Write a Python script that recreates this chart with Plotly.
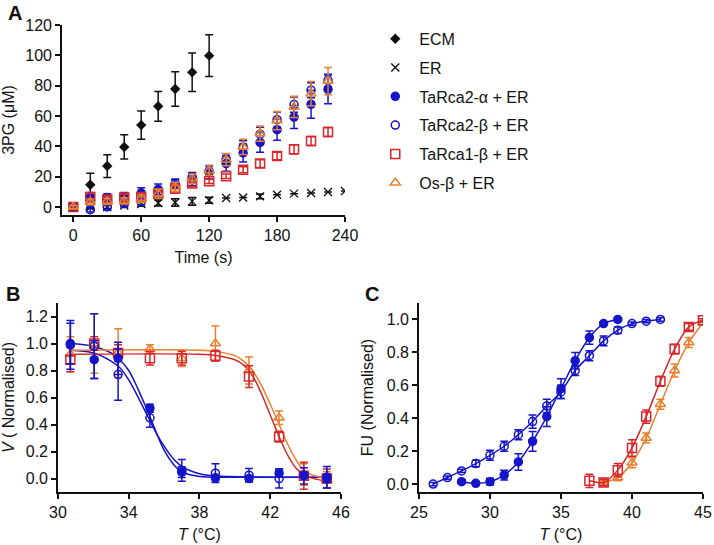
import plotly.graph_objects as go

# ---- panel A: 3PG production over time
time_s = [0, 15, 30, 45, 60, 75, 90, 105, 120, 135, 150, 165, 180, 195, 210, 225, 240]

ecm_t = [0, 15, 30, 45, 60, 75, 90, 105, 120]
ecm = [0, 14.7, 27, 39.6, 54, 66.4, 77.8, 88.8, 99.8]
ecm_err = [0.5, 7.5, 7.5, 8, 9.3, 9.8, 11.4, 12.7, 13.8]

er = [0, 0, 0, 1, 2, 2.6, 2.9, 3.7, 4.4, 5.9, 6.2, 7, 8.1, 8.8, 9.2, 9.9, 10.5]
er_err = [None, 1, 1, 1, 1.5, 2, 2.5, 2.5, 2, None, None, 1.5, None, None, None, None, None]

ta2a = [0, 5.9, 6.2, 6.6, 9.2, 11.6, 14, 18.2, 22.9, 28.6, 35.6, 42.6, 51, 59.3, 67.7, 77.6]
ta2a_err = [1, 2.5, 2.5, 3, 3.5, 3.5, 4, 4, 4.5, 5, 6, 6.5, 7, 7.5, 9.2, 9.5]
ta2b = [0, -1.8, 0, 2.2, 3.5, 8.8, 15.4, 19.8, 23.7, 31.6, 39.6, 48, 57.6, 67.5, 77, 83.5]
ta2b_err = [1, 1.5, 1.5, 1.5, 2, 3, 3, 3, 3, 3.5, 4, 4.5, 5, 5, 5, 4]
ta1b = [0, 6.6, 5, 6.2, 6.6, 8.8, 12, 15.4, 16.9, 20.2, 24.6, 28.6, 33.6, 38, 43.5, 49.4]
ta1b_err = [1, 3, 2, 2, 2, 2, 2, 2, 1.5, 1.5, 2, 2.5, 2.5, 3, 3, 3]
osb = [0, 3.3, 3.7, 4, 5.5, 8.8, 13.2, 18.7, 24, 31.2, 39.6, 48.4, 57, 66, 74.7, 83]
osb_err = [1, 2, 2, 2, 2.5, 3, 3, 3, 3, 4, 5, 5, 6, 7, 8, 9]

# ---- panel B: activity vs temperature
b_t = [30.7, 32.05, 33.4, 35.2, 37.0, 38.9, 40.8, 42.5, 43.9, 45.2]
b_2a = [1.0, 0.88, 0.89, 0.52, 0.047, 0.005, 0.0, 0.04, 0.025, 0.0]
b_2a_err = [0.15, 0.14, 0.12, 0.03, 0.04, 0.02, 0.02, 0.03, 0.02, 0.03]
b_2b = [0.99, 0.98, 0.77, 0.45, 0.06, 0.04, 0.025, 0.0, 0.02, 0.01]
b_2b_err = [0.18, 0.24, 0.19, 0.07, 0.08, 0.07, 0.05, 0.07, 0.06, 0.08]
b_1b = [0.88, 1.0, 0.93, 0.89, 0.89, 0.91, 0.755, 0.31, 0.02, 0.0]
b_1b_err = [0.09, 0.05, 0.06, 0.05, 0.05, 0.04, 0.08, 0.04, 0.1, 0.07]
b_os = [0.92, 1.0, 0.93, 0.96, 0.89, 1.0, 0.8, 0.45, 0.03, -0.01]
b_os_err = [0.13, 0.22, 0.18, 0.03, 0.06, 0.13, 0.1, 0.05, 0.08, 0.06]

# fitted curves
fit_2a_t = [30.7, 32, 33, 33.5, 34, 34.5, 35, 35.5, 36, 36.5, 37, 38, 40, 45.2]
fit_2a = [1.0, 0.98, 0.93, 0.88, 0.80, 0.67, 0.52, 0.36, 0.21, 0.11, 0.05, 0.015, 0.01, 0.01]
fit_2b_t = [30.7, 32, 33, 33.5, 34, 34.5, 35, 35.5, 36, 36.5, 37, 38, 39, 41, 45.2]
fit_2b = [0.95, 0.93, 0.87, 0.82, 0.73, 0.61, 0.48, 0.35, 0.24, 0.15, 0.09, 0.035, 0.018, 0.012, 0.01]
fit_1b_t = [30.7, 38, 39, 40, 40.5, 41, 41.5, 42, 42.5, 43, 43.5, 44, 45.2]
fit_1b = [0.92, 0.92, 0.91, 0.88, 0.84, 0.76, 0.63, 0.47, 0.31, 0.17, 0.07, 0.02, -0.02]
fit_os_t = [30.7, 38, 39, 40, 40.5, 41, 41.5, 42, 42.5, 43, 43.5, 44, 45.2]
fit_os = [0.95, 0.95, 0.94, 0.91, 0.87, 0.80, 0.69, 0.55, 0.40, 0.25, 0.13, 0.05, 0.0]

# ---- panel C: fluorescence unfolding
c_2b_t = [26, 27, 28, 29, 30, 31, 32, 33, 34, 35, 36, 37, 38, 39, 40, 41, 42]
c_2b = [0.0, 0.04, 0.08, 0.125, 0.175, 0.23, 0.30, 0.38, 0.475, 0.56, 0.69, 0.78, 0.87, 0.935, 0.975, 0.99, 1.0]
c_2b_err = [0.01, 0.01, 0.01, 0.02, 0.03, 0.03, 0.03, 0.04, 0.04, 0.04, 0.03, 0.03, 0.03, 0.02, 0.01, 0.01, 0.01]
c_2a_t = [28, 29, 30, 31, 32, 33, 34, 35, 36, 37, 38, 39]
c_2a = [0.015, 0.005, 0.015, 0.055, 0.135, 0.26, 0.41, 0.58, 0.75, 0.89, 0.975, 1.0]
c_2a_err = [0.01, 0.01, 0.02, 0.03, 0.05, 0.06, 0.06, 0.06, 0.05, 0.04, 0.01, 0.01]
c_1b_t = [37, 38, 39, 40, 41, 42, 43, 44, 45]
c_1b = [0.02, 0.01, 0.085, 0.22, 0.41, 0.625, 0.82, 0.955, 0.995]
c_1b_err = [0.04, 0.02, 0.04, 0.05, 0.04, 0.03, 0.03, 0.02, 0.01]
c_os_t = [38, 39, 40, 41, 42, 43, 44, 45]
c_os = [0.01, 0.04, 0.13, 0.28, 0.485, 0.69, 0.86, 0.98]
c_os_err = [0.01, 0.02, 0.03, 0.03, 0.03, 0.04, 0.03, 0.01]

BLACK = "#111111"
BLUE = "#1414c8"
RED = "#d8262a"
ORANGE = "#e8802e"
FONT = "Arial, Liberation Sans, sans-serif"


def err(arr, color):
    return dict(type="data", array=arr, color=color, thickness=1.5, width=4, visible=True)


def msize(sym):
    return 8 if "circle" in sym else 9


fig = go.Figure()

# panel A
fig.add_trace(go.Scatter(x=ecm_t, y=ecm, name="ECM", mode="markers", legendgroup="1",
                         marker=dict(symbol="diamond", size=8, color=BLACK),
                         error_y=err(ecm_err, BLACK), xaxis="x", yaxis="y"))
fig.add_trace(go.Scatter(x=time_s, y=er, name="ER", mode="markers", legendgroup="2",
                         marker=dict(symbol="x-thin", size=8, line=dict(color=BLACK, width=1.3)),
                         error_y=err(er_err, BLACK), xaxis="x", yaxis="y"))
series_a = [
    ("TaRca2-α + ER", ta2a, ta2a_err, BLUE, "circle"),
    ("TaRca2-β + ER", ta2b, ta2b_err, BLUE, "circle-open"),
    ("TaRca1-β + ER", ta1b, ta1b_err, RED, "square-open"),
    ("Os-β + ER", osb, osb_err, ORANGE, "triangle-up-open"),
]
for i, (name, ys, es, col, sym) in enumerate(series_a):
    fig.add_trace(go.Scatter(x=time_s[:len(ys)], y=ys, name=name, mode="markers", legendgroup=str(i + 3),
                             marker=dict(symbol=sym, size=msize(sym), color=col,
                                         line=dict(color=col, width=1.5)),
                             error_y=err(es, col), xaxis="x", yaxis="y"))

# panel B
fits_b = [(fit_2a_t, fit_2a, BLUE), (fit_2b_t, fit_2b, BLUE), (fit_1b_t, fit_1b, RED), (fit_os_t, fit_os, ORANGE)]
for xs, ys, col in fits_b:
    fig.add_trace(go.Scatter(x=xs, y=ys, mode="lines", line=dict(color=col, width=1.5, shape="spline"),
                             showlegend=False, hoverinfo="skip", xaxis="x2", yaxis="y2"))
pts_b = [(b_os, b_os_err, ORANGE, "triangle-up-open"), (b_1b, b_1b_err, RED, "square-open"),
         (b_2b, b_2b_err, BLUE, "circle-open"), (b_2a, b_2a_err, BLUE, "circle")]
for ys, es, col, sym in pts_b:
    fig.add_trace(go.Scatter(x=b_t, y=ys, mode="markers", showlegend=False,
                             marker=dict(symbol=sym, size=msize(sym), color=col,
                                         line=dict(color=col, width=1.5)),
                             error_y=err(es, col), xaxis="x2", yaxis="y2"))

# panel C
pts_c = [(c_os_t, c_os, c_os_err, ORANGE, "triangle-up-open"), (c_1b_t, c_1b, c_1b_err, RED, "square-open"),
         (c_2b_t, c_2b, c_2b_err, BLUE, "circle-open"), (c_2a_t, c_2a, c_2a_err, BLUE, "circle")]
for xs, ys, es, col, sym in pts_c:
    fig.add_trace(go.Scatter(x=xs, y=ys, mode="lines+markers", showlegend=False,
                             line=dict(color=col, width=1.5, shape="spline", smoothing=0.8),
                             marker=dict(symbol=sym, size=msize(sym), color=col,
                                         line=dict(color=col, width=1.5)),
                             error_y=err(es, col), xaxis="x3", yaxis="y3"))

ax = dict(showline=True, linecolor=BLACK, linewidth=1.5, ticks="outside", ticklen=5,
          tickwidth=1.5, tickcolor=BLACK, showgrid=False, zeroline=False, automargin=False,
          tickfont=dict(size=16, color=BLACK, family=FONT),
          title_font=dict(size=16, color=BLACK, family=FONT))

fig.update_layout(
    width=714, height=545, paper_bgcolor="white", plot_bgcolor="white",
    margin=dict(l=0, r=0, t=0, b=0, autoexpand=False),
    font=dict(family=FONT, color=BLACK),
    xaxis=dict(ax, domain=[0.0868, 0.4832], range=[-10, 240], tickvals=[0, 60, 120, 180, 240],
               anchor="y", title=dict(text="Time (s)", standoff=9)),
    yaxis=dict(ax, domain=[0.6055, 0.9541], range=[-5.3, 120], tickvals=[0, 20, 40, 60, 80, 100, 120],
               anchor="x", title=dict(text="3PG (μM)", standoff=9)),
    xaxis2=dict(ax, domain=[0.0812, 0.4776], range=[30, 46], tickvals=[30, 34, 38, 42, 46],
                anchor="y2", title=dict(text="<i>T</i> (°C)", standoff=9)),
    yaxis2=dict(ax, domain=[0.0972, 0.444], range=[-0.1, 1.3], tickvals=[0, 0.2, 0.4, 0.6, 0.8, 1.0, 1.2],
                tickformat=".1f", anchor="x2", title=dict(text="<i>V</i> ( Normalised)", standoff=9)),
    xaxis3=dict(ax, domain=[0.5868, 0.9846], range=[25, 45], tickvals=[25, 30, 35, 40, 45],
                anchor="y3", title=dict(text="<i>T</i> (°C)", standoff=9)),
    yaxis3=dict(ax, domain=[0.0972, 0.444], range=[-0.048, 1.1], tickvals=[0, 0.2, 0.4, 0.6, 0.8, 1.0],
                tickformat=".1f", anchor="x3", title=dict(text="FU (Normalised)", standoff=9)),
    legend=dict(x=0.52, y=0.96, xanchor="left", yanchor="top", bgcolor="rgba(0,0,0,0)",
                font=dict(size=16, color=BLACK, family=FONT), itemwidth=38, tracegroupgap=5),
    showlegend=True,
    annotations=[
        dict(text="<b>A</b>", x=0.008, y=1.0, xref="paper", yref="paper", xanchor="left", yanchor="top",
             showarrow=False, font=dict(size=20, color=BLACK, family=FONT)),
        dict(text="<b>B</b>", x=0.005, y=0.485, xref="paper", yref="paper", xanchor="left", yanchor="top",
             showarrow=False, font=dict(size=20, color=BLACK, family=FONT)),
        dict(text="<b>C</b>", x=0.508, y=0.485, xref="paper", yref="paper", xanchor="left", yanchor="top",
             showarrow=False, font=dict(size=20, color=BLACK, family=FONT)),
    ],
)

# drop the default page margin so the 714x545 figure fills the window
fig.write_html("out.html", config={"displayModeBar": False},
               post_script="document.body.style.margin='0';document.body.style.overflow='hidden';")
